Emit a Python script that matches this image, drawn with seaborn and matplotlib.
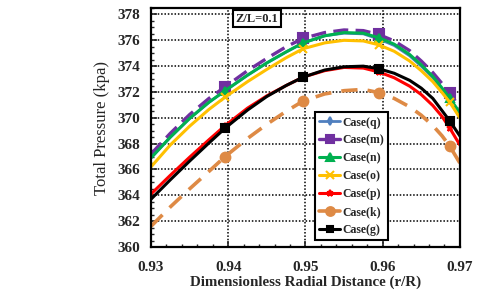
import matplotlib
matplotlib.use("Agg")
import matplotlib.pyplot as plt
import seaborn as sns
from matplotlib import ticker as ticker
from matplotlib.lines import Line2D

# r/R positions (markers sit on the 0.94 / 0.95 / 0.96 / 0.969 points)
r_R = [0.93, 0.9325, 0.935, 0.9375, 0.9396, 0.9425, 0.945, 0.9475, 0.9497, 0.9525,
       0.955, 0.9575, 0.9595, 0.9615, 0.9635, 0.965, 0.9665, 0.9677, 0.9687, 0.97]
marker_idx = [4, 8, 12, 18]

case_q = [366.9, 368.5, 369.95, 371.2, 372.1, 373.3, 374.25, 375.1, 375.8, 376.35,
          376.55, 376.5, 376.1, 375.6, 374.8, 374.0, 373.1, 372.2, 371.4, 370.3]
case_m = [367.2, 368.8, 370.25, 371.5, 372.4, 373.65, 374.6, 375.5, 376.15, 376.6,
          376.8, 376.75, 376.45, 375.95, 375.2, 374.4, 373.5, 372.65, 371.9, 370.8]
case_n = [366.9, 368.5, 369.95, 371.2, 372.1, 373.3, 374.25, 375.1, 375.8, 376.35,
          376.6, 376.55, 376.2, 375.7, 374.9, 374.1, 373.2, 372.3, 371.5, 370.4]
case_o = [366.2, 367.9, 369.35, 370.65, 371.6, 372.8, 373.75, 374.65, 375.35, 375.8,
          376.0, 375.95, 375.65, 375.15, 374.4, 373.65, 372.8, 371.95, 371.2, 370.0]
case_p = [364.1, 365.55, 366.95, 368.3, 369.4, 370.75, 371.7, 372.5, 373.15, 373.65,
          373.9, 373.85, 373.55, 373.1, 372.45, 371.8, 370.95, 370.1, 369.2, 367.9]
case_k = [361.6, 363.1, 364.5, 365.85, 367.0, 368.4, 369.5, 370.5, 371.3, 371.85,
          372.1, 372.2, 371.95, 371.5, 370.85, 370.2, 369.4, 368.6, 367.8, 366.5]
case_g = [363.7, 365.2, 366.65, 368.05, 369.2, 370.6, 371.65, 372.5, 373.15, 373.7,
          373.95, 374.0, 373.8, 373.45, 372.9, 372.3, 371.5, 370.55, 369.75, 368.6]

labels = ["Case(q)", "Case(m)", "Case(n)", "Case(o)", "Case(p)", "Case(k)", "Case(g)"]
series = [case_q, case_m, case_n, case_o, case_p, case_k, case_g]

styles = {
    "Case(q)": dict(color="#4F7FBF", marker="d", ms=4, ls="-", lw=2.0),
    "Case(m)": dict(color="#7030A0", marker="s", ms=7, ls=(0, (4.5, 2.2)), lw=2.4),
    "Case(n)": dict(color="#00B050", marker="^", ms=6, ls="-", lw=2.2),
    "Case(o)": dict(color="#FFC000", marker="x", ms=6, ls="-", lw=2.2),
    "Case(p)": dict(color="#FF0000", marker="*", ms=5, ls="-", lw=2.2),
    "Case(k)": dict(color="#DE8A45", marker="o", ms=7, ls=(0, (4.5, 2.8)), lw=2.6),
    "Case(g)": dict(color="#000000", marker="s", ms=5.5, ls="-", lw=2.2),
}

sns.set_style("ticks")
plt.rcParams["font.family"] = ["Liberation Serif", "DejaVu Serif"]
plt.rcParams["font.weight"] = "bold"

fig = plt.figure(figsize=(4.8, 2.97), dpi=100)
ax = fig.add_axes([0.3146, 0.1684, 0.6434, 0.8046])

for name, vals in zip(labels, series):
    st = styles[name]
    sns.lineplot(
        x=r_R, y=vals, ax=ax, color=st["color"], linewidth=st["lw"],
        linestyle=st["ls"], marker=st["marker"], markersize=st["ms"],
        markeredgecolor=st["color"], markeredgewidth=1.5,
        markevery=marker_idx, legend=False,
    )

ax.set_xlim(0.93, 0.97)
ax.set_ylim(360, 378.5)
ax.xaxis.set_major_locator(ticker.MultipleLocator(0.01))
ax.xaxis.set_minor_locator(ticker.MultipleLocator(0.002))
ax.yaxis.set_major_locator(ticker.MultipleLocator(2))
ax.yaxis.set_minor_locator(ticker.MultipleLocator(0.5))
ax.xaxis.set_major_formatter(ticker.StrMethodFormatter("{x:.2f}"))
ax.yaxis.set_major_formatter(ticker.StrMethodFormatter("{x:.0f}"))

ax.tick_params(which="major", direction="in", length=4, width=1.2, labelsize=11, pad=8)
ax.tick_params(axis="x", which="major", pad=10)
ax.tick_params(which="minor", direction="in", length=2.5, width=1.0)
for lab in ax.get_xticklabels() + ax.get_yticklabels():
    lab.set_fontweight("bold")

ax.grid(True, which="major", color="black", linestyle=(0, (1, 1.2)), linewidth=1.1)
for sp in ax.spines.values():
    sp.set_visible(True)
    sp.set_linewidth(1.6)
    sp.set_color("black")

ax.set_xlabel("Dimensionless Radial Distance (r/R)", fontsize=10.8, fontweight="bold", labelpad=1)
ax.set_ylabel("Total Pressure (kpa)", fontsize=12, fontweight="normal", labelpad=5)

ax.text(0.343, 0.956, "Z/L=0.1", transform=ax.transAxes, ha="center", va="center",
        fontsize=9, fontweight="bold",
        bbox=dict(boxstyle="square,pad=0.2", facecolor="white", edgecolor="black", linewidth=1.5))

handles = []
for name in labels:
    st = styles[name]
    handles.append(Line2D([], [], color=st["color"], linewidth=st["lw"], linestyle="-",
                          marker=st["marker"], markersize=st["ms"] * 0.9,
                          markeredgecolor=st["color"], markeredgewidth=1.5))
leg = ax.legend(handles, labels, loc="lower left", bbox_to_anchor=(0.531, 0.029),
                prop=dict(family="Liberation Serif", weight="bold", size=8.5),
                frameon=True, fancybox=False, framealpha=1, edgecolor="black",
                handlelength=1.8, handletextpad=0.15, labelspacing=0.5,
                borderpad=0.35, borderaxespad=0)
leg.get_frame().set_linewidth(1.5)

fig.savefig("out.png", dpi=100)
